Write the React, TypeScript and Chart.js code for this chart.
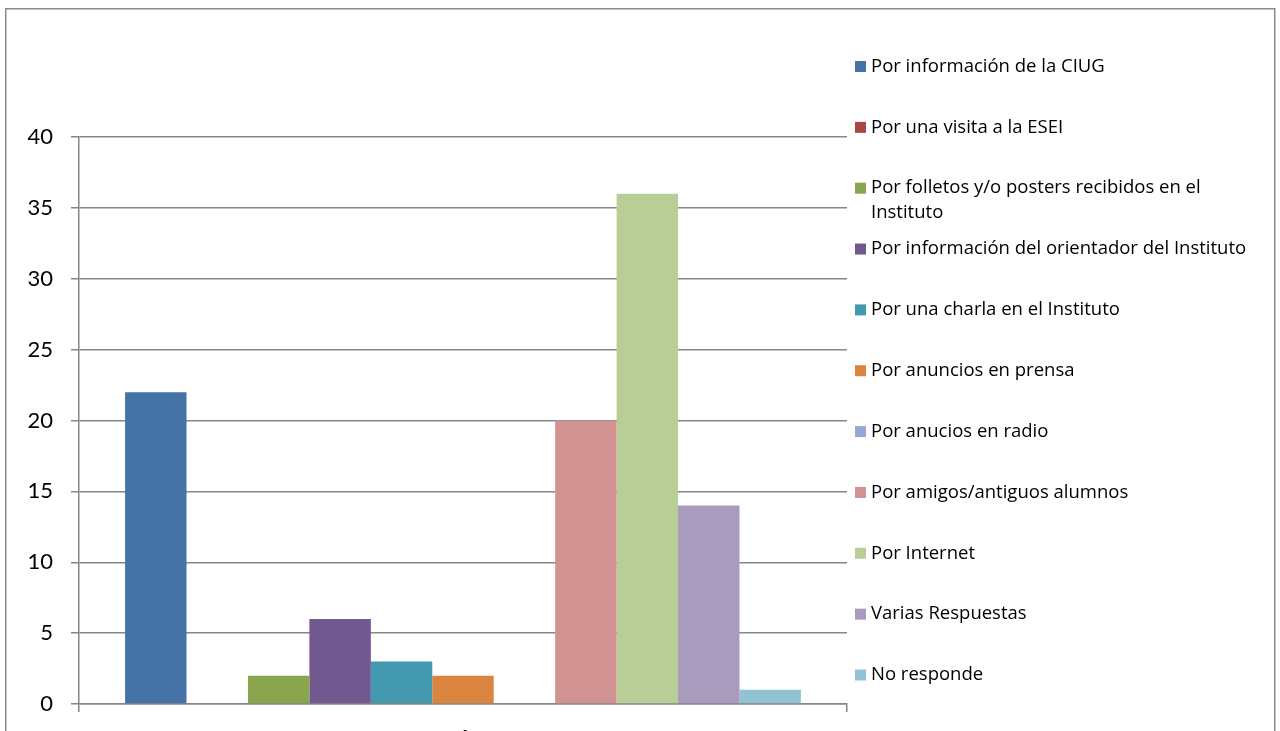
import React, { useEffect, useRef } from "react";
import { Chart, registerables } from "chart.js";

Chart.register(...registerables);

const categories = ["Á"];

const seriesNames = [
  "Por información de la CIUG",
  "Por una visita a la ESEI",
  "Por folletos y/o posters recibidos en el Instituto",
  "Por información del orientador del Instituto",
  "Por una charla en el Instituto",
  "Por anuncios en prensa",
  "Por anucios en radio",
  "Por amigos/antiguos alumnos",
  "Por Internet",
  "Varias Respuestas",
  "No responde",
];

const seriesValues = [22, 0, 2, 6, 3, 2, 0, 20, 36, 14, 1];

const seriesColors = [
  "#4572A7",
  "#AA4643",
  "#89A54E",
  "#71588F",
  "#4198AF",
  "#DB843D",
  "#93A9CF",
  "#D19392",
  "#B9CD96",
  "#A99BBD",
  "#92C3D4",
];

const yTicks = [0, 5, 10, 15, 20, 25, 30, 35, 40];

const AXIS_FONT = "Lato, 'Open Sans', sans-serif";
const LEGEND_FONT = "'Open Sans', Lato, sans-serif";
const GRID = "#868686";

function wrapText(ctx: CanvasRenderingContext2D, text: string, maxW: number): string[] {
  const words = text.split(" ");
  const lines: string[] = [];
  let cur = "";
  for (const w of words) {
    const test = cur ? cur + " " + w : w;
    if (ctx.measureText(test).width > maxW && cur) {
      lines.push(cur);
      cur = w;
    } else {
      cur = test;
    }
  }
  if (cur) lines.push(cur);
  return lines;
}

const framePlugin = {
  id: "frame",
  beforeDraw(chart: any) {
    const ctx = chart.ctx as CanvasRenderingContext2D;
    ctx.save();
    ctx.fillStyle = "#ffffff";
    ctx.fillRect(0, 0, chart.width, chart.height);
    ctx.strokeStyle = "#8a8a8a";
    ctx.lineWidth = 1.5;
    ctx.strokeRect(5.75, 8.75, 1269, 900);
    ctx.restore();
  },
};

const sideLegendPlugin = {
  id: "sideLegend",
  afterDraw(chart: any) {
    const ctx = chart.ctx as CanvasRenderingContext2D;
    ctx.save();
    ctx.font = `18.5px ${LEGEND_FONT}`;
    ctx.textBaseline = "middle";
    ctx.textAlign = "left";
    const boxX = 855;
    const textX = 871;
    const maxW = 392;
    const y0 = 66.5;
    const step = 60.85;
    const lineH = 24.5;
    chart.data.datasets.forEach((ds: any, i: number) => {
      const y = y0 + i * step;
      ctx.fillStyle = ds.backgroundColor;
      ctx.fillRect(boxX, y - 5.5, 11, 11);
      ctx.fillStyle = "#000000";
      const lines = wrapText(ctx, ds.label, maxW);
      lines.forEach((ln, j) => ctx.fillText(ln, textX, y + j * lineH));
    });
    ctx.restore();
  },
};

export default function App() {
  const canvasRef = useRef<HTMLCanvasElement | null>(null);

  useEffect(() => {
    if (!canvasRef.current) return;
    const chart = new Chart(canvasRef.current, {
      type: "bar",
      data: {
        labels: categories,
        datasets: seriesNames.map((name, i) => ({
          label: name,
          data: [seriesValues[i]],
          backgroundColor: seriesColors[i],
          borderWidth: 0,
          categoryPercentage: 0.88,
          barPercentage: 1,
        })),
      },
      options: {
        animation: false,
        responsive: true,
        maintainAspectRatio: false,
        devicePixelRatio: 1,
        layout: {
          padding: { left: 0, top: 137, right: 433, bottom: 0 },
        },
        plugins: {
          legend: { display: false },
          tooltip: { enabled: false },
          title: { display: false },
        },
        scales: {
          x: {
            offset: true,
            grid: {
              display: true,
              drawOnChartArea: false,
              drawTicks: true,
              tickLength: 8,
              offset: true,
              color: GRID,
              lineWidth: 1.5,
            },
            border: { display: true, color: GRID, width: 1.5 },
            ticks: {
              color: "#000000",
              font: { family: AXIS_FONT, size: 22 },
              padding: 18,
              maxRotation: 0,
            },
            afterFit(s: any) {
              s.height = 27;
              s.paddingLeft = 0;
              s.paddingRight = 0;
            },
          },
          y: {
            min: 0,
            max: 40,
            afterBuildTicks(s: any) {
              s.ticks = yTicks.map((v) => ({ value: v }));
            },
            grid: {
              color: GRID,
              lineWidth: 1.5,
              drawTicks: true,
              tickLength: 8,
            },
            border: { display: true, color: GRID, width: 1.5 },
            ticks: {
              color: "#000000",
              font: { family: AXIS_FONT, size: 22 },
              padding: 18,
            },
            afterFit(s: any) {
              s.width = 79;
              s.paddingTop = 0;
              s.paddingBottom = 0;
            },
          },
        },
      },
      plugins: [framePlugin, sideLegendPlugin],
    });
    return () => chart.destroy();
  }, []);

  return (
    <div
      style={{
        position: "fixed",
        left: 0,
        top: 0,
        width: 1280,
        height: 731,
        background: "#ffffff",
      }}
    >
      <canvas ref={canvasRef} />
    </div>
  );
}
